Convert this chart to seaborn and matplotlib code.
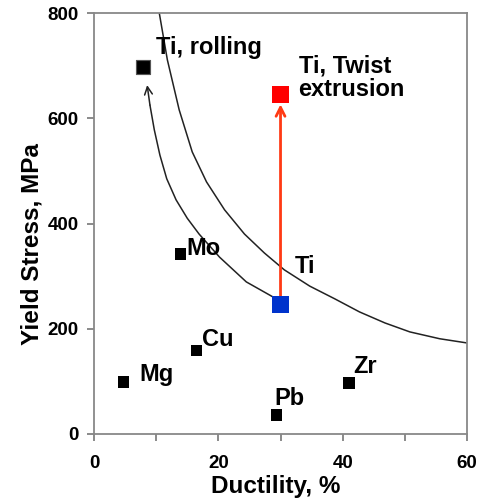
import seaborn as sns
import matplotlib.pyplot as plt
import pandas as pd

# metals (black squares)
metals = ["Mg", "Cu", "Mo", "Pb", "Zr"]
metal_ductility = [4.8, 16.5, 13.9, 29.4, 41.0]
metal_yield = [99, 158, 342, 36, 97]

# titanium states
ti_rolling = (7.9, 698)
ti_annealed = (30.0, 247)
ti_twist = (30.0, 645)

# strength-ductility boundary curve
bound_x = [10.5, 11.8, 13.7, 15.8, 18.1, 21.0, 24.2, 27.4, 30.6, 34.7, 38.7, 42.7, 46.8, 50.8, 55.6, 60.0]
bound_y = [800, 711, 616, 536, 479, 426, 380, 344, 312, 281, 257, 232, 211, 194, 181, 173]

# rolling path, from annealed Ti up to rolled Ti
roll_x = [29.0, 24.5, 20.2, 16.9, 15.0, 13.2, 11.7, 10.6, 9.7, 9.0, 8.55]
roll_y = [259, 289, 336, 380, 410, 445, 485, 530, 578, 625, 663]

sns.set_theme(style="ticks")
plt.rcParams["font.family"] = ["Liberation Sans", "DejaVu Sans"]
plt.rcParams["font.weight"] = "bold"
plt.rcParams["text.color"] = "black"
plt.rcParams["axes.labelcolor"] = "black"
plt.rcParams["xtick.labelcolor"] = "black"
plt.rcParams["ytick.labelcolor"] = "black"

fig = plt.figure(figsize=(4.82, 5.0), dpi=100)
ax = fig.add_axes([0.195, 0.132, 0.774, 0.842])

line_kw = dict(sort=False, color="#222222", linewidth=1.1, ax=ax)
sns.lineplot(x=bound_x, y=bound_y, **line_kw)
sns.lineplot(x=roll_x[:-1], y=roll_y[:-1], **line_kw)
for ln in ax.lines:
    ln.set_solid_joinstyle("round")
ax.annotate("", xy=(roll_x[-1], roll_y[-1]), xytext=(roll_x[-2], roll_y[-2]),
            arrowprops=dict(arrowstyle="->", color="#222222", lw=1.1, mutation_scale=14,
                            shrinkA=0, shrinkB=0))

# red arrow: twist extrusion
ax.annotate("", xy=ti_twist, xytext=ti_annealed,
            arrowprops=dict(arrowstyle="->", color="#ff3a14", lw=2.0, mutation_scale=16,
                            shrinkA=0, shrinkB=7))

df = pd.DataFrame({"x": metal_ductility, "y": metal_yield, "name": metals})
sns.scatterplot(data=df, x="x", y="y", marker="s", s=65, color="black",
                edgecolor="none", ax=ax, zorder=5)
sns.scatterplot(x=[ti_rolling[0]], y=[ti_rolling[1]], marker="s", s=110, color="black",
                edgecolor="#555555", ax=ax, zorder=5)
sns.scatterplot(x=[ti_annealed[0]], y=[ti_annealed[1]], marker="s", s=150, color="#0033cc",
                edgecolor="none", ax=ax, zorder=6)
sns.scatterplot(x=[ti_twist[0]], y=[ti_twist[1]], marker="s", s=150, color="#ff0000",
                edgecolor="none", ax=ax, zorder=6)

label_offsets = {"Mg": (11, 5), "Cu": (4, 8), "Mo": (4, 4), "Pb": (-1.5, 12), "Zr": (3, 12)}
for name, x, y in zip(metals, metal_ductility, metal_yield):
    ax.annotate(name, (x, y), textcoords="offset points", xytext=label_offsets[name],
                ha="left", va="center", fontsize=17, fontweight="bold")
ax.annotate("Ti, rolling", ti_rolling, textcoords="offset points", xytext=(9, 14),
            ha="left", va="center", fontsize=17, fontweight="bold")
ax.annotate("Ti, Twist\nextrusion", ti_twist, textcoords="offset points", xytext=(13, 12),
            ha="left", va="center", fontsize=17, fontweight="bold", linespacing=1.05)
ax.annotate("Ti", ti_annealed, textcoords="offset points", xytext=(10, 27),
            ha="left", va="center", fontsize=17, fontweight="bold")

ax.set_xlim(0, 60)
ax.set_ylim(0, 800)
ax.set_xticks([0, 10, 20, 30, 40, 50, 60])
ax.set_xticklabels(["0", "", "20", "", "40", "", "60"])
ax.set_yticks([0, 200, 400, 600, 800])
ax.tick_params(axis="both", labelsize=13.5, length=5, width=1.2, color="#777777", pad=6)
ax.tick_params(axis="x", pad=10)
for lab in ax.get_xticklabels() + ax.get_yticklabels():
    lab.set_fontweight("bold")
for sp in ax.spines.values():
    sp.set_color("#888888")
    sp.set_linewidth(1.3)

ax.set_xlabel("Ductility, %", fontsize=17.5, fontweight="bold")
ax.set_ylabel("Yield Stress, MPa", fontsize=17.5, fontweight="bold")
ax.xaxis.set_label_coords(0.488, -0.098)
ax.yaxis.set_label_coords(-0.134, 0.45)

fig.savefig("out.png", dpi=100)
